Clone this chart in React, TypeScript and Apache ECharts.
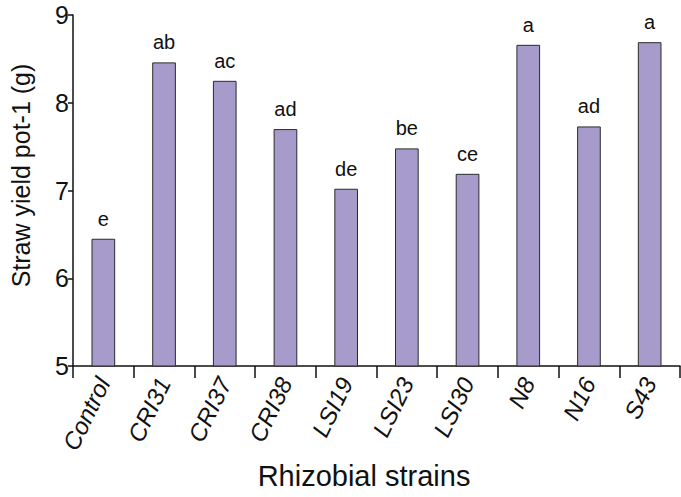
import React, { useEffect, useRef } from "react";
import * as echarts from "echarts";

const categories = ["Control", "CRI31", "CRI37", "CRI38", "LSI19", "LSI23", "LSI30", "N8", "N16", "S43"];
const strawYield = [6.45, 8.46, 8.25, 7.7, 7.02, 7.48, 7.19, 8.66, 7.73, 8.69];
const letters = ["e", "ab", "ac", "ad", "de", "be", "ce", "a", "ad", "a"];
const yTicks = [5, 6, 7, 8, 9];

export default function App() {
  const ref = useRef<HTMLDivElement>(null);
  useEffect(() => {
    document.body.style.margin = "0";
    if (!ref.current) return;
    const chart = echarts.init(ref.current, null, { renderer: "svg" });
    const font = "Liberation Sans, Arial, sans-serif";
    chart.setOption({
      animation: false,
      backgroundColor: "#ffffff",
      grid: { left: 67, top: 15, right: 1, bottom: 131, containLabel: false },
      xAxis: {
        type: "category",
        data: categories,
        boundaryGap: true,
        name: "Rhizobial strains",
        nameLocation: "middle",
        nameGap: 94,
        nameTextStyle: { fontFamily: font, fontSize: 29, color: "#111", padding: [0, 25, 0, 0] },
        axisLine: { show: true, lineStyle: { color: "#111", width: 1.5 } },
        axisTick: { show: true, length: 12, inside: false, lineStyle: { color: "#111", width: 1.5 } },
        axisLabel: {
          rotate: 64,
          margin: 13,
          fontFamily: font,
          fontStyle: "italic",
          fontSize: 24,
          color: "#111",
          interval: 0,
        },
      },
      yAxis: {
        type: "value",
        min: yTicks[0],
        max: yTicks[yTicks.length - 1],
        interval: 1,
        name: "Straw yield pot-1 (g)",
        nameLocation: "middle",
        nameGap: 40,
        nameTextStyle: { fontFamily: font, fontSize: 25, color: "#111", padding: [0, 0, 0, 30] },
        axisLine: { show: true, lineStyle: { color: "#111", width: 1.5 } },
        axisTick: { show: true, length: 5, inside: false, lineStyle: { color: "#111", width: 1.5 } },
        axisLabel: { fontFamily: font, fontSize: 25, color: "#111", margin: 4 },
        splitLine: { show: false },
      },
      series: [
        {
          type: "bar",
          data: strawYield,
          barWidth: "39%",
          itemStyle: { color: "#a69bcb", borderColor: "#2b2b2b", borderWidth: 1 },
          label: {
            show: true,
            position: "top",
            distance: 10,
            fontFamily: font,
            fontSize: 20,
            color: "#111",
            formatter: (p: any) => letters[p.dataIndex],
          },
        },
      ],
    });
    return () => chart.dispose();
  }, []);
  return <div ref={ref} style={{ width: 681, height: 497 }} />;
}
